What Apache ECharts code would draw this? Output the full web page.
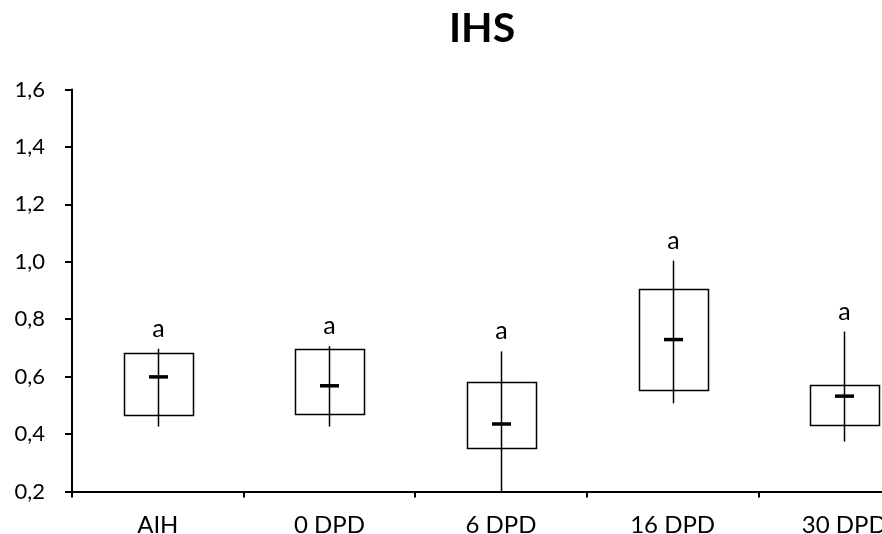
<!DOCTYPE html>
<html>
<head>
<meta charset="utf-8">
<script src="https://cdn.jsdelivr.net/npm/echarts@6/dist/echarts.min.js"></script>
<style>
html,body{margin:0;padding:0;background:#fff;}
#chart{width:882px;height:534px;}
</style>
</head>
<body>
<div id="chart"></div>
<script>
var categories = ['AIH', '0 DPD', '6 DPD', '16 DPD', '30 DPD'];
var boxLow = [0.468, 0.468, 0.351, 0.553, 0.432];
var boxHigh = [0.683, 0.696, 0.580, 0.906, 0.570];
var medians = [0.600, 0.569, 0.436, 0.730, 0.533];
var whiskerLow = [0.426, 0.426, 0.200, 0.507, 0.374];
var whiskerHigh = [0.697, 0.706, 0.688, 1.004, 0.757];
var letters = ['a', 'a', 'a', 'a', 'a'];
var yTicks = [0.2, 0.4, 0.6, 0.8, 1.0, 1.2, 1.4, 1.6];

var FONT = 'Lato, "Open Sans", sans-serif';
var data = categories.map(function (c, i) {
  return [i, boxLow[i], boxHigh[i], medians[i], whiskerLow[i], whiskerHigh[i]];
});

var chart = echarts.init(document.getElementById('chart'), null, {renderer: 'canvas'});
chart.setOption({
  animation: false,
  backgroundColor: '#ffffff',
  title: {
    text: 'IHS',
    left: 477,
    top: 3,
    textAlign: 'center',
    textStyle: {fontFamily: FONT, fontSize: 41, fontWeight: 'bold', color: '#000'}
  },
  grid: {left: 72, width: 858, top: 89.5, height: 402, containLabel: false, outerBoundsMode: 'none'},
  xAxis: {
    type: 'category',
    data: categories,
    boundaryGap: true,
    axisLine: {lineStyle: {color: '#000', width: 2}},
    axisTick: {show: true, length: 6, lineStyle: {color: '#000', width: 2}},
    axisLabel: {fontFamily: FONT, fontSize: 24, color: '#000', margin: 22},
    splitLine: {show: false}
  },
  yAxis: {
    type: 'value',
    min: yTicks[0],
    max: yTicks[yTicks.length - 1],
    interval: 0.2,
    axisLine: {show: true, lineStyle: {color: '#000', width: 2}},
    axisTick: {show: true, length: 7, lineStyle: {color: '#000', width: 2}},
    axisLabel: {
      fontFamily: FONT, fontSize: 22, color: '#000', margin: 27,
      formatter: function (v) { return v.toFixed(1).replace('.', ','); }
    },
    splitLine: {show: false}
  },
  series: [{
    type: 'custom',
    clip: false,
    data: data,
    renderItem: function (params, api) {
      var x = api.value(0);
      var lo = api.coord([x, api.value(1)]);
      var hi = api.coord([x, api.value(2)]);
      var med = api.coord([x, api.value(3)]);
      var wl = api.coord([x, api.value(4)]);
      var wh = api.coord([x, api.value(5)]);
      var band = api.size([1, 0])[0];
      var bw = band * 0.4;
      var cx = Math.round(lo[0]) + 0.5;
      var letter = letters[params.dataIndex];
      return {
        type: 'group',
        children: [
          {type: 'rect', shape: {x: Math.round(cx - bw / 2) + 0.5, y: Math.round(hi[1]) + 0.5, width: Math.round(bw), height: Math.round(lo[1] - hi[1])},
           style: {fill: '#fff', stroke: '#000', lineWidth: 1.5}},
          {type: 'line', shape: {x1: cx, y1: wh[1], x2: cx, y2: wl[1]}, style: {stroke: '#000', lineWidth: 1.5}},
          {type: 'rect', shape: {x: cx - 9.5, y: med[1] - 1.5, width: 19, height: 3.5}, style: {fill: '#000'}},
          {type: 'text', x: cx, y: wh[1] - 20, style: {text: letter, fontFamily: FONT, fontSize: 25, fill: '#000', align: 'center', verticalAlign: 'middle'}}
        ]
      };
    }
  }]
});
</script>
</body>
</html>
